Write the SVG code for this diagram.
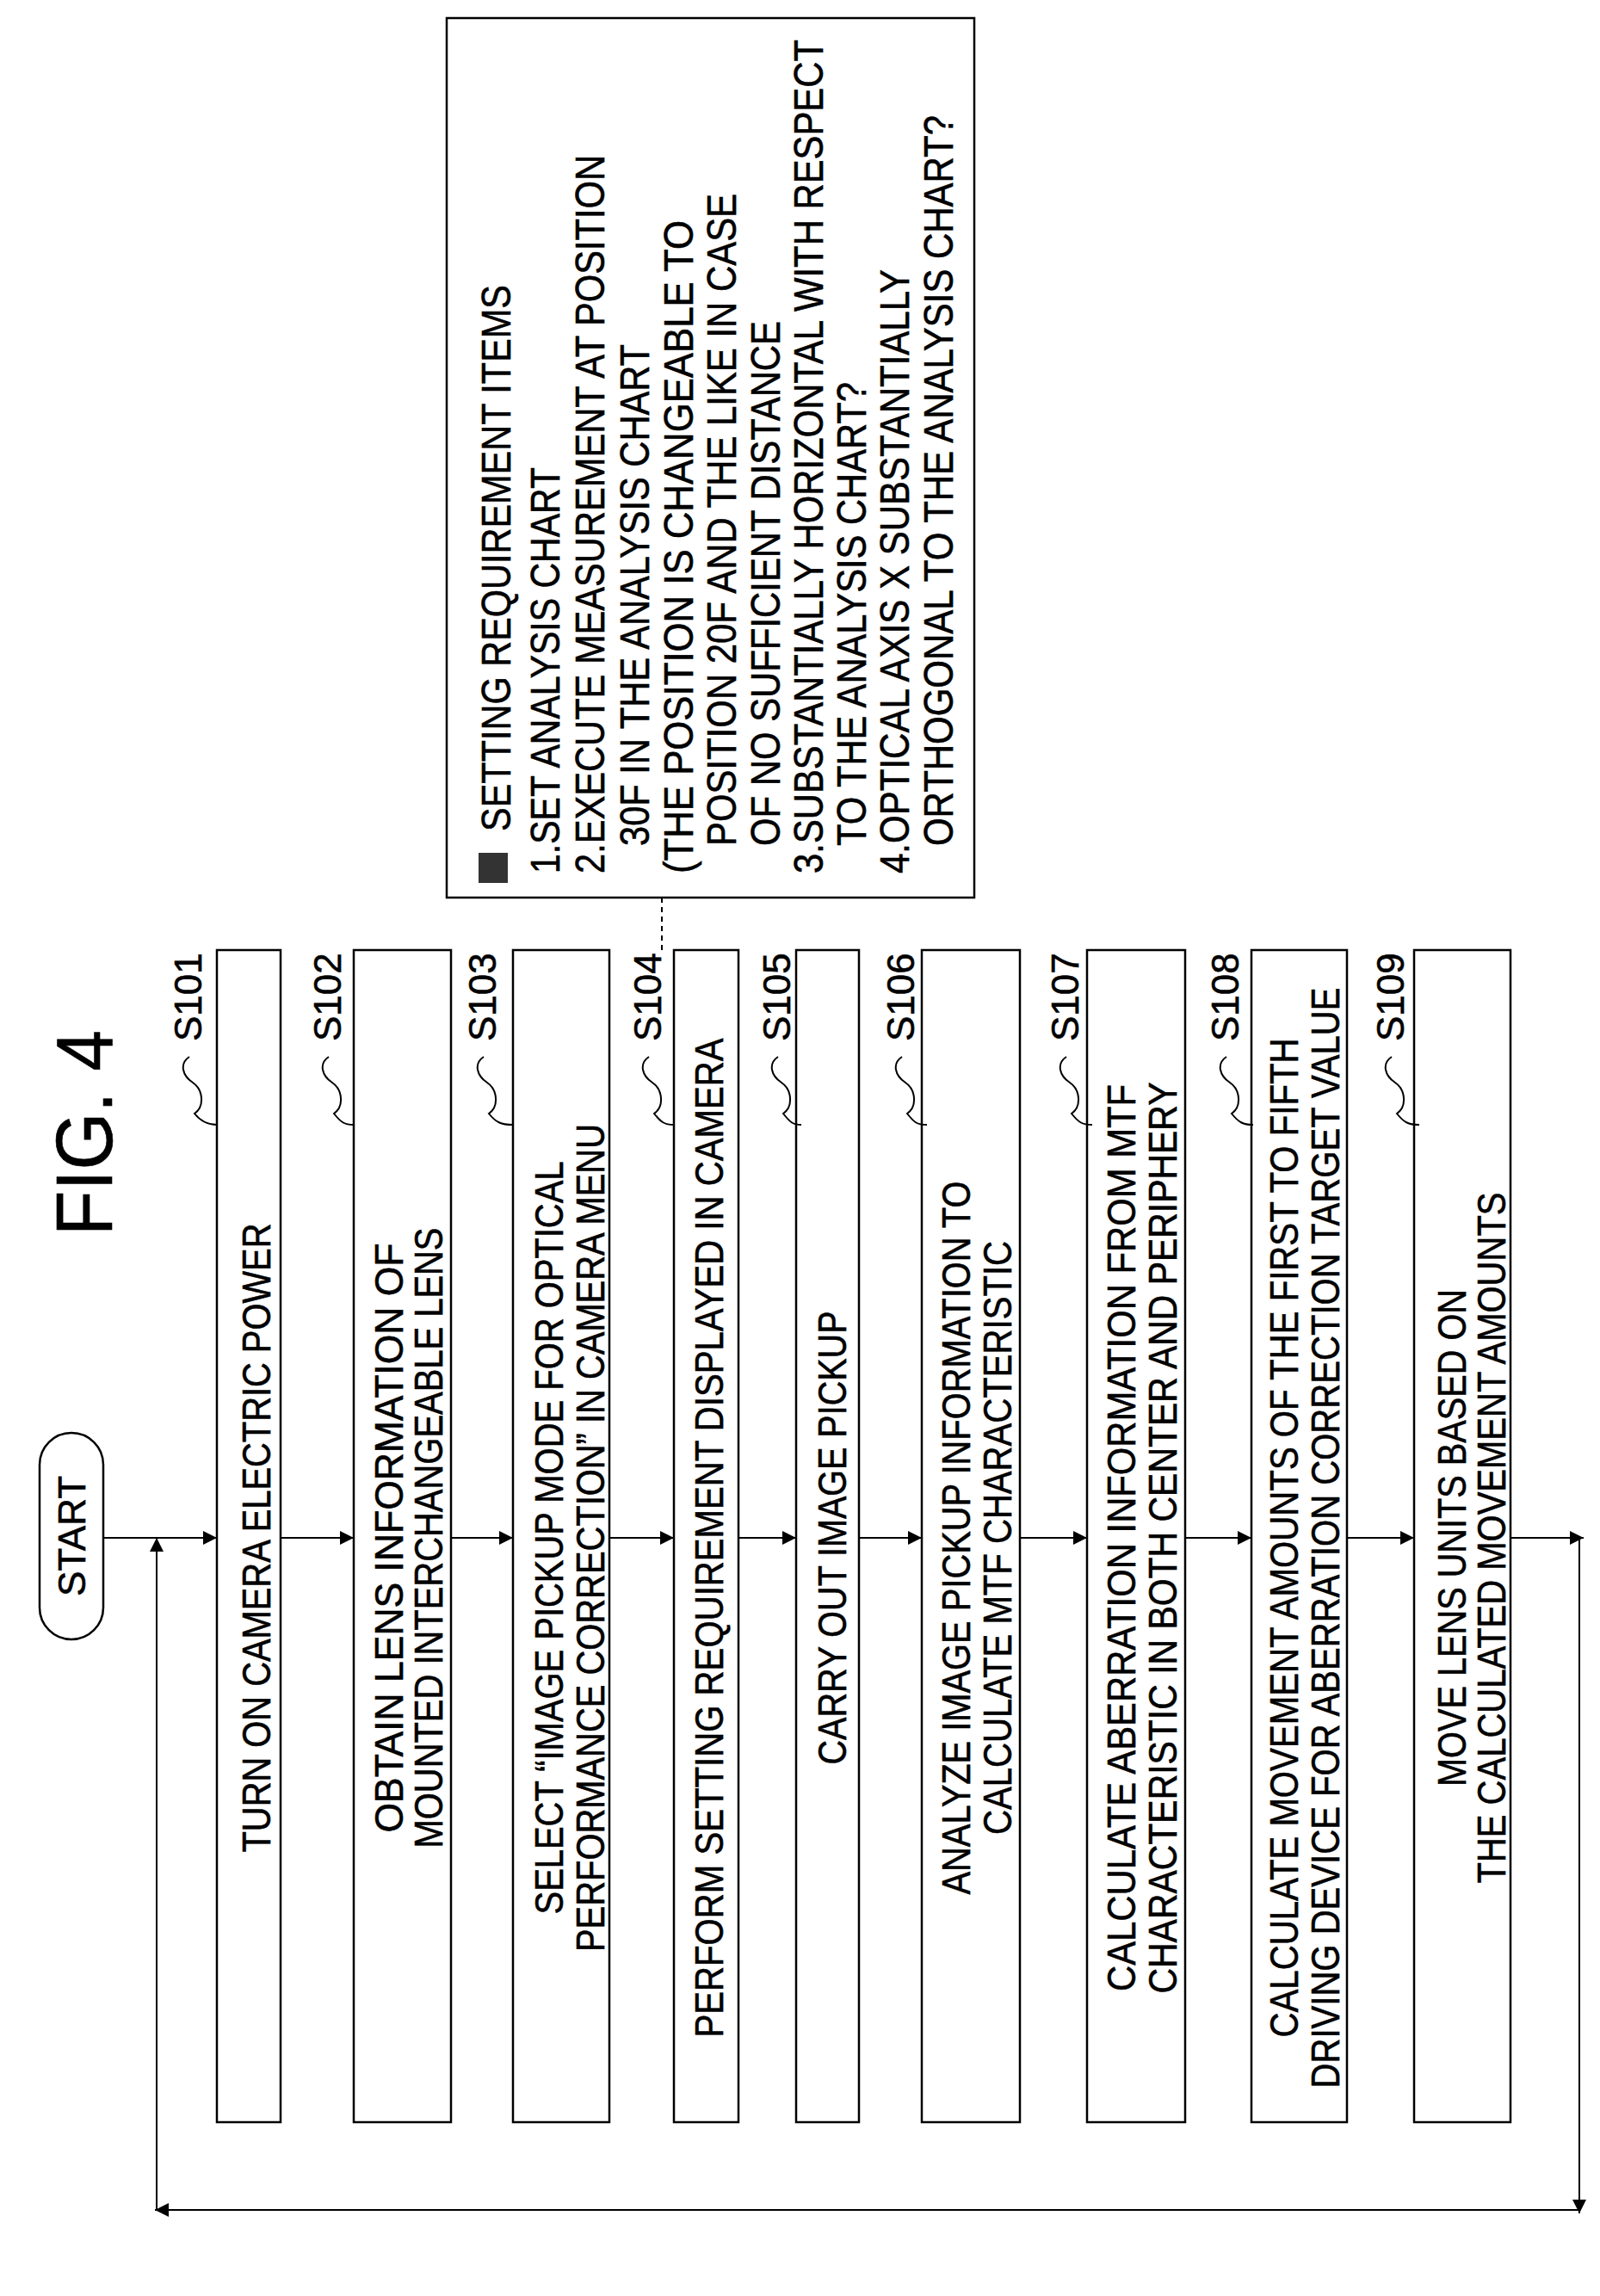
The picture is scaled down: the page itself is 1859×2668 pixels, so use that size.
<svg xmlns="http://www.w3.org/2000/svg" width="1859" height="2668" viewBox="0 0 1859 2668">
<style>
text{font-family:"Liberation Sans",Arial,sans-serif;fill:#000;stroke:#000;stroke-width:0.6}
.b{fill:#fff;stroke:#000;stroke-width:2.5}
.t{font-size:46px}
.n{font-size:48px}
.l{font-size:44px}
.c{fill:none;stroke:#000;stroke-width:2}
.d{fill:none;stroke:#000;stroke-width:2;stroke-dasharray:6 5}
</style>
<defs>
<marker id="a" viewBox="0 0 10 10" refX="10" refY="5" markerWidth="18" markerHeight="16" markerUnits="userSpaceOnUse" orient="auto"><path d="M0,0L10,5L0,10z" fill="#000"/></marker>
</defs>
<text x="130" y="1436" font-size="92" transform="rotate(-90 130 1436)" textLength="239" lengthAdjust="spacingAndGlyphs">FIG.  4</text>
<g id="start"><rect x="46" y="1665" width="74" height="240" rx="37" class="b"/><text x="99" y="1785" class="l" text-anchor="middle" transform="rotate(-90 99 1785)">START</text></g>
<g id="note">
<rect x="519" y="21" width="613" height="1022" class="b"/>
<rect x="556" y="991" width="34" height="35" fill="#333"/>
<g class="n">
<text x="593" y="966" transform="rotate(-90 593 966)" textLength="635" lengthAdjust="spacingAndGlyphs">SETTING REQUIREMENT ITEMS</text>
<text x="650" y="1015" transform="rotate(-90 650 1015)" textLength="472" lengthAdjust="spacingAndGlyphs">1.SET ANALYSIS CHART</text>
<text x="702" y="1015" transform="rotate(-90 702 1015)" textLength="835" lengthAdjust="spacingAndGlyphs">2.EXECUTE MEASUREMENT AT POSITION</text>
<text x="754" y="983" transform="rotate(-90 754 983)" textLength="583" lengthAdjust="spacingAndGlyphs">30F IN THE ANALYSIS CHART</text>
<text x="805" y="1015" transform="rotate(-90 805 1015)" textLength="759" lengthAdjust="spacingAndGlyphs">(THE POSITION IS CHANGEABLE TO</text>
<text x="855" y="983" transform="rotate(-90 855 983)" textLength="758" lengthAdjust="spacingAndGlyphs">POSITION 20F AND THE LIKE IN CASE</text>
<text x="906" y="983" transform="rotate(-90 906 983)" textLength="610" lengthAdjust="spacingAndGlyphs">OF NO SUFFICIENT DISTANCE</text>
<text x="956" y="1015" transform="rotate(-90 956 1015)" textLength="969" lengthAdjust="spacingAndGlyphs">3.SUBSTANTIALLY HORIZONTAL WITH RESPECT</text>
<text x="1006" y="983" transform="rotate(-90 1006 983)" textLength="539" lengthAdjust="spacingAndGlyphs">TO THE ANALYSIS CHART?</text>
<text x="1056" y="1015" transform="rotate(-90 1056 1015)" textLength="702" lengthAdjust="spacingAndGlyphs">4.OPTICAL AXIS X SUBSTANTIALLY</text>
<text x="1107" y="983" transform="rotate(-90 1107 983)" textLength="849" lengthAdjust="spacingAndGlyphs">ORTHOGONAL TO THE ANALYSIS CHART?</text>
</g>
</g>
<g id="S101"><rect x="252" y="1104" width="74" height="1362" class="b"/><text x="314" y="1787" class="t" text-anchor="middle" transform="rotate(-90 314 1787)" textLength="731" lengthAdjust="spacingAndGlyphs">TURN ON CAMERA ELECTRIC POWER</text></g>
<g id="S102"><rect x="411" y="1104" width="113" height="1362" class="b"/><text x="468" y="1787" class="t" text-anchor="middle" transform="rotate(-90 468 1787)" textLength="685" lengthAdjust="spacingAndGlyphs">OBTAIN LENS INFORMATION OF</text><text x="514" y="1787" class="t" text-anchor="middle" transform="rotate(-90 514 1787)" textLength="721" lengthAdjust="spacingAndGlyphs">MOUNTED INTERCHANGEABLE LENS</text></g>
<g id="S103"><rect x="596" y="1104" width="112" height="1362" class="b"/><text x="654" y="1787" class="t" text-anchor="middle" transform="rotate(-90 654 1787)" textLength="875" lengthAdjust="spacingAndGlyphs">SELECT “IMAGE PICKUP MODE FOR OPTICAL</text><text x="702" y="1787" class="t" text-anchor="middle" transform="rotate(-90 702 1787)" textLength="962" lengthAdjust="spacingAndGlyphs">PERFORMANCE CORRECTION” IN CAMERA MENU</text></g>
<g id="S104"><rect x="783" y="1104" width="75" height="1362" class="b"/><text x="840" y="1787" class="t" text-anchor="middle" transform="rotate(-90 840 1787)" textLength="1161" lengthAdjust="spacingAndGlyphs">PERFORM SETTING REQUIREMENT DISPLAYED IN CAMERA</text></g>
<g id="S105"><rect x="925" y="1104" width="73" height="1362" class="b"/><text x="983" y="1787" class="t" text-anchor="middle" transform="rotate(-90 983 1787)" textLength="527" lengthAdjust="spacingAndGlyphs">CARRY OUT IMAGE PICKUP</text></g>
<g id="S106"><rect x="1071" y="1104" width="114" height="1362" class="b"/><text x="1127" y="1787" class="t" text-anchor="middle" transform="rotate(-90 1127 1787)" textLength="829" lengthAdjust="spacingAndGlyphs">ANALYZE IMAGE PICKUP INFORMATION TO</text><text x="1175" y="1787" class="t" text-anchor="middle" transform="rotate(-90 1175 1787)" textLength="690" lengthAdjust="spacingAndGlyphs">CALCULATE MTF CHARACTERISTIC</text></g>
<g id="S107"><rect x="1263" y="1104" width="114" height="1362" class="b"/><text x="1319" y="1787" class="t" text-anchor="middle" transform="rotate(-90 1319 1787)" textLength="1054" lengthAdjust="spacingAndGlyphs">CALCULATE ABERRATION INFORMATION FROM MTF</text><text x="1367" y="1787" class="t" text-anchor="middle" transform="rotate(-90 1367 1787)" textLength="1059" lengthAdjust="spacingAndGlyphs">CHARACTERISTIC IN BOTH CENTER AND PERIPHERY</text></g>
<g id="S108"><rect x="1454" y="1104" width="111" height="1362" class="b"/><text x="1508" y="1787" class="t" text-anchor="middle" transform="rotate(-90 1508 1787)" textLength="1161" lengthAdjust="spacingAndGlyphs">CALCULATE MOVEMENT AMOUNTS OF THE FIRST TO FIFTH</text><text x="1556" y="1787" class="t" text-anchor="middle" transform="rotate(-90 1556 1787)" textLength="1279" lengthAdjust="spacingAndGlyphs">DRIVING DEVICE FOR ABERRATION CORRECTION TARGET VALUE</text></g>
<g id="S109"><rect x="1643" y="1104" width="112" height="1362" class="b"/><text x="1703" y="1787" class="t" text-anchor="middle" transform="rotate(-90 1703 1787)" textLength="578" lengthAdjust="spacingAndGlyphs">MOVE LENS UNITS BASED ON</text><text x="1749" y="1787" class="t" text-anchor="middle" transform="rotate(-90 1749 1787)" textLength="803" lengthAdjust="spacingAndGlyphs">THE CALCULATED MOVEMENT AMOUNTS</text></g>
<g id="labels" class="l">
<text x="234" y="1210" transform="rotate(-90 234 1210)">S101</text>
<text x="396" y="1210" transform="rotate(-90 396 1210)">S102</text>
<text x="576" y="1210" transform="rotate(-90 576 1210)">S103</text>
<text x="768" y="1210" transform="rotate(-90 768 1210)">S104</text>
<text x="918" y="1210" transform="rotate(-90 918 1210)">S105</text>
<text x="1062" y="1210" transform="rotate(-90 1062 1210)">S106</text>
<text x="1253" y="1210" transform="rotate(-90 1253 1210)">S107</text>
<text x="1439" y="1210" transform="rotate(-90 1439 1210)">S108</text>
<text x="1631" y="1210" transform="rotate(-90 1631 1210)">S109</text>
</g>
<g id="connectors">
<g class="c">
<path d="M220 1228c-12 8 -8 22 4 30s14 28 2 36c8 10 16 13 26 13"/>
<path d="M382 1228c-12 8 -8 22 4 30s14 28 2 36c8 10 12 13 23 13"/>
<path d="M562 1228c-12 8 -8 22 4 30s14 28 2 36c8 10 14 13 28 13"/>
<path d="M754 1228c-12 8 -8 22 4 30s14 28 2 36c8 10 12 13 23 13"/>
<path d="M904 1228c-12 8 -8 22 4 30s14 28 2 36c8 10 11 13 21 13"/>
<path d="M1048 1228c-12 8 -8 22 4 30s14 28 2 36c8 10 11 13 23 13"/>
<path d="M1239 1228c-12 8 -8 22 4 30s14 28 2 36c8 10 12 13 24 13"/>
<path d="M1425 1228c-12 8 -8 22 4 30s14 28 2 36c8 10 13 13 25 13"/>
<path d="M1617 1228c-12 8 -8 22 4 30s14 28 2 36c8 10 13 13 26 13"/>
</g>
<path d="M769 1043V1104" class="d"/>
<g class="c" marker-end="url(#a)">
<path d="M120 1787H252"/>
<path d="M326 1787H411"/>
<path d="M524 1787H596"/>
<path d="M708 1787H783"/>
<path d="M858 1787H925"/>
<path d="M998 1787H1071"/>
<path d="M1185 1787H1263"/>
<path d="M1377 1787H1454"/>
<path d="M1565 1787H1643"/>
<path d="M1755 1787H1840"/>
<path d="M1835 1787V2572"/>
<path d="M1835 2568H180"/>
<path d="M182 2568V1787"/>
</g>
</g>
</svg>
